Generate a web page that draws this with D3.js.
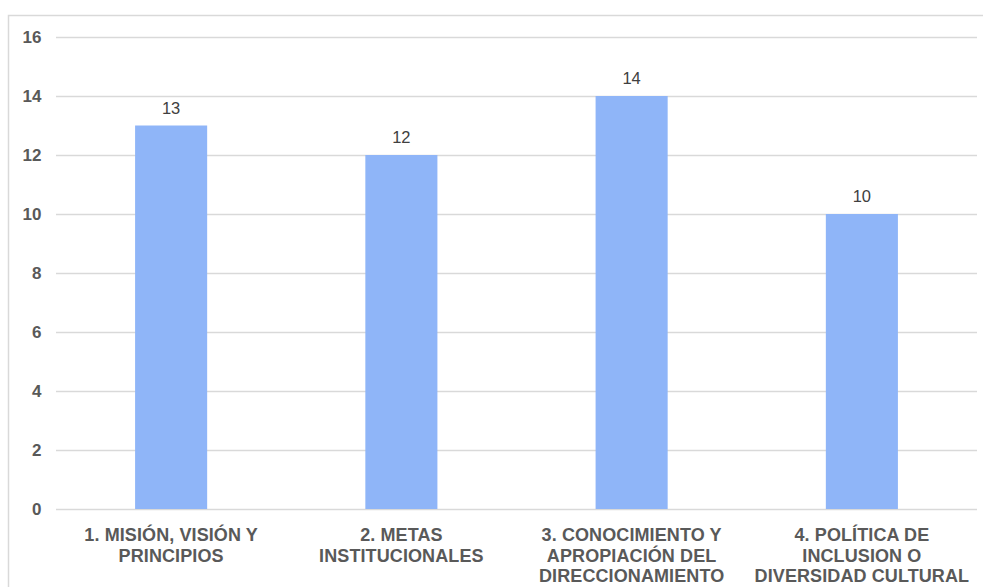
<!DOCTYPE html>
<html>
<head>
<meta charset="utf-8">
<script src="https://cdn.jsdelivr.net/npm/d3@7"></script>
<style>
  html, body { margin: 0; padding: 0; background: #ffffff; }
  svg { display: block; }
</style>
</head>
<body>
<script>
// Categories (each split into the lines shown under the axis)
const categories = [
  ["1. MISIÓN, VISIÓN Y", "PRINCIPIOS"],
  ["2. METAS", "INSTITUCIONALES"],
  ["3. CONOCIMIENTO Y", "APROPIACIÓN DEL", "DIRECCIONAMIENTO"],
  ["4. POLÍTICA DE", "INCLUSION O", "DIVERSIDAD CULTURAL"]
];
const values = [13, 12, 14, 10];
const yTicks = [0, 2, 4, 6, 8, 10, 12, 14, 16];

const W = 983, H = 587;
const plot = { left: 56, right: 977, top: 37, bottom: 509 };

const svg = d3.select("body").append("svg")
  .attr("width", W).attr("height", H);

// outer chart frame
svg.append("rect")
  .attr("x", 8.5).attr("y", 15.5)
  .attr("width", W + 20).attr("height", H + 20)
  .attr("fill", "none").attr("stroke", "#d9d9d9").attr("stroke-width", 1.5);

const x = d3.scaleBand()
  .domain(d3.range(categories.length))
  .range([plot.left, plot.right])
  .padding(0);

const y = d3.scaleLinear()
  .domain([0, 16])
  .range([plot.bottom, plot.top]);

const barWidth = x.bandwidth() * 0.313;

// horizontal gridlines
svg.append("g")
  .selectAll("line")
  .data(yTicks)
  .join("line")
  .attr("x1", plot.left).attr("x2", plot.right)
  .attr("y1", d => Math.round(y(d)) + 0.5)
  .attr("y2", d => Math.round(y(d)) + 0.5)
  .attr("stroke", "#d9d9d9").attr("stroke-width", 1.5);

// y axis labels
const yAxis = d3.axisLeft(y).tickValues(yTicks).tickSize(0).tickPadding(0);
const gy = svg.append("g")
  .attr("transform", `translate(41.5,0)`)
  .call(yAxis);
gy.select(".domain").remove();
gy.selectAll("text")
  .attr("font-family", "Liberation Sans, Arial, sans-serif")
  .attr("font-size", 17)
  .attr("font-weight", "bold")
  .attr("fill", "#595959");

// bars
svg.append("g")
  .selectAll("rect")
  .data(values)
  .join("rect")
  .attr("x", (d, i) => x(i) + (x.bandwidth() - barWidth) / 2)
  .attr("y", d => y(d))
  .attr("width", barWidth)
  .attr("height", d => y(0) - y(d))
  .attr("fill", "#8fb5f8");

// value labels
svg.append("g")
  .selectAll("text")
  .data(values)
  .join("text")
  .attr("x", (d, i) => x(i) + x.bandwidth() / 2)
  .attr("y", d => y(d) - 12)
  .attr("text-anchor", "middle")
  .attr("font-family", "Liberation Sans, Arial, sans-serif")
  .attr("font-size", 16.5)
  .attr("fill", "#404040")
  .text(d => d);

// category labels
const cat = svg.append("g")
  .selectAll("text")
  .data(categories)
  .join("text")
  .attr("x", (d, i) => x(i) + x.bandwidth() / 2)
  .attr("y", 541)
  .attr("text-anchor", "middle")
  .attr("font-family", "Liberation Sans, Arial, sans-serif")
  .attr("font-size", 18)
  .attr("font-weight", "bold")
  .attr("letter-spacing", 0.1)
  .attr("fill", "#595959");
cat.selectAll("tspan")
  .data(d => d)
  .join("tspan")
  .attr("x", function () { return d3.select(this.parentNode).attr("x"); })
  .attr("dy", (d, i) => i === 0 ? 0 : 20.5)
  .text(d => d);
</script>
</body>
</html>
